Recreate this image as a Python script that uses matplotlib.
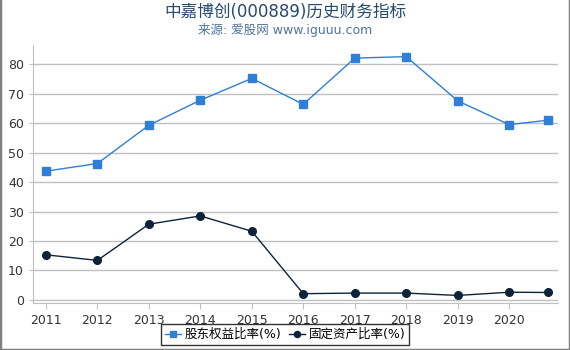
import numpy as np
import matplotlib.pyplot as plt
from matplotlib.patches import Rectangle

plt.rcParams['font.family'] = ['DejaVu Sans', 'Noto Sans CJK SC']

years = [2011, 2012, 2013, 2014, 2015, 2016, 2017, 2018, 2019, 2020, 2020.75]
tick_years = [2011, 2012, 2013, 2014, 2015, 2016, 2017, 2018, 2019, 2020]
equity_ratio = [43.7, 46.3, 59.3, 67.8, 75.2, 66.4, 82.1, 82.6, 67.6, 59.5, 61.0]
fixed_ratio = [15.3, 13.4, 25.7, 28.5, 23.3, 2.1, 2.3, 2.3, 1.5, 2.6, 2.5]

blue = '#2f7ed8'
navy = '#0d233a'


def main():
    fig = plt.figure(figsize=(5.7, 3.5), dpi=100)
    ax = fig.add_axes([0.058, 0.134, 0.921, 0.737])

    ax.plot(years, equity_ratio, color=blue, linewidth=1, marker='s',
            markersize=5.5, label='股东权益比率(%)')
    ax.plot(years, fixed_ratio, color=navy, linewidth=1, marker='o',
            markersize=5.5, label='固定资产比率(%)')

    ax.set_xlim(2010.75, 2020.95)
    ax.set_ylim(-1.1, 86.5)
    ax.set_xticks(tick_years)
    ax.set_yticks(range(0, 90, 10))
    ax.yaxis.grid(True, color='#c0c0c0', linewidth=1)
    ax.set_axisbelow(True)
    ax.tick_params(axis='both', labelsize=9, colors='#c0c0c0',
                   labelcolor='#333333', length=4)
    ax.tick_params(axis='y', length=3)
    for side in ('top', 'right'):
        ax.spines[side].set_visible(False)
    for side in ('left', 'bottom'):
        ax.spines[side].set_color('#c0c0c0')

    fig.text(0.5, 0.965, '中嘉博创(000889)历史财务指标', ha='center', va='center',
             fontsize=12, color='#274b6d')
    fig.text(0.5, 0.915, '来源: 爱股网 www.iguuu.com', ha='center', va='center',
             fontsize=9, color='#4d759e')

    handles, labels = ax.get_legend_handles_labels()
    leg = fig.legend(handles, labels, loc='lower center',
                     bbox_to_anchor=(0.5, -0.003), ncol=2,
                     frameon=True, fontsize=9, handlelength=1.3,
                     handletextpad=0.3, columnspacing=0.6, borderpad=0.3,
                     fancybox=False, markerscale=0.8)
    leg.get_frame().set_edgecolor('black')
    leg.get_frame().set_linewidth(1)

    # outer border (left, right, bottom)
    fig.add_artist(Rectangle((0, 0), 1, 1.05, transform=fig.transFigure,
                             fill=False, edgecolor='#808080', linewidth=2.5))

    fig.savefig('out.png', dpi=100)


if __name__ == '__main__':
    main()
